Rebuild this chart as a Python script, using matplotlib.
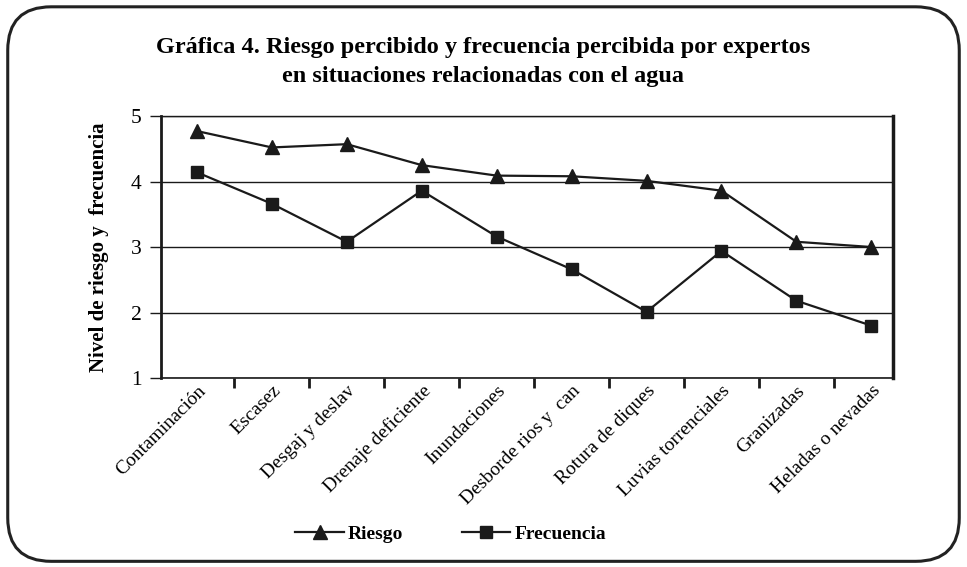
import numpy as np
import matplotlib; matplotlib.use("Agg"); import matplotlib.pyplot as plt
from matplotlib.patches import FancyBboxPatch

categorias = ["Contaminación", "Escasez", "Desgaj y deslav", "Drenaje deficiente", "Inundaciones",
              "Desborde rios y  can", "Rotura de diques", "Luvias torrenciales", "Granizadas", "Heladas o nevadas"]
riesgo = [4.77, 4.52, 4.57, 4.25, 4.09, 4.08, 4.01, 3.86, 3.08, 3.0]
frecuencia = [4.14, 3.66, 3.08, 3.86, 3.16, 2.66, 2.01, 2.94, 2.18, 1.8]

plt.rcParams["font.family"] = ["Liberation Serif", "DejaVu Serif"]
fig = plt.figure(figsize=(9.67, 5.67), dpi=100)
fig.patches.append(FancyBboxPatch((0.008, 0.01), 0.984, 0.978, boxstyle="round,pad=0,rounding_size=0.045",
                                  transform=fig.transFigure, fill=False, lw=2.2, ec="#222222", mutation_aspect=967/567))

ax = fig.add_axes([0.1665, 0.3333, 0.757, 0.4621])
x = np.arange(len(categorias))
ax.plot(x, riesgo, color="#1a1a1a", lw=1.6, marker="^", ms=10, label="Riesgo")
ax.plot(x, frecuencia, color="#1a1a1a", lw=1.6, marker="s", ms=9, label="Frecuencia")
ax.set_ylim(1, 5)
ax.set_xlim(-0.48, 9.29)
ax.set_yticks([1, 2, 3, 4, 5])
ax.yaxis.grid(True, color="#1a1a1a", lw=1)
ax.set_axisbelow(True)
ax.tick_params(axis="y", length=8, width=1, labelsize=15.5, pad=6, color="#1a1a1a")
ax.set_xticks(x)
ax.set_xticklabels(categorias, rotation=45, ha="right", rotation_mode="anchor", fontsize=14)
ax.tick_params(axis="x", which="major", length=0, pad=3)
ax.set_xticks(np.arange(0.5, 9, 1), minor=True)
ax.tick_params(axis="x", which="minor", length=7, width=2, color="#1a1a1a")
for s in ax.spines.values():
    s.set_color("#1a1a1a")
ax.spines["left"].set_linewidth(2)
ax.spines["right"].set_linewidth(2.5)
ax.spines["top"].set_linewidth(1)
ax.spines["bottom"].set_linewidth(1.2)
ax.set_ylabel("Nivel de riesgo y  frecuencia", fontsize=15, fontweight="bold", labelpad=16)

fig.text(0.5, 0.89, "Gráfica 4. Riesgo percibido y frecuencia percibida por expertos\nen situaciones relacionadas con el agua",
         ha="center", va="center", fontsize=17.5, fontweight="bold", linespacing=1.5)

fig.legend(loc="center", bbox_to_anchor=(0.466, 0.058), ncol=2, frameon=False,
           handlelength=2.5, columnspacing=3, handletextpad=0.2, prop={"weight": "bold", "size": 14})
plt.savefig("out.png", dpi=100)
